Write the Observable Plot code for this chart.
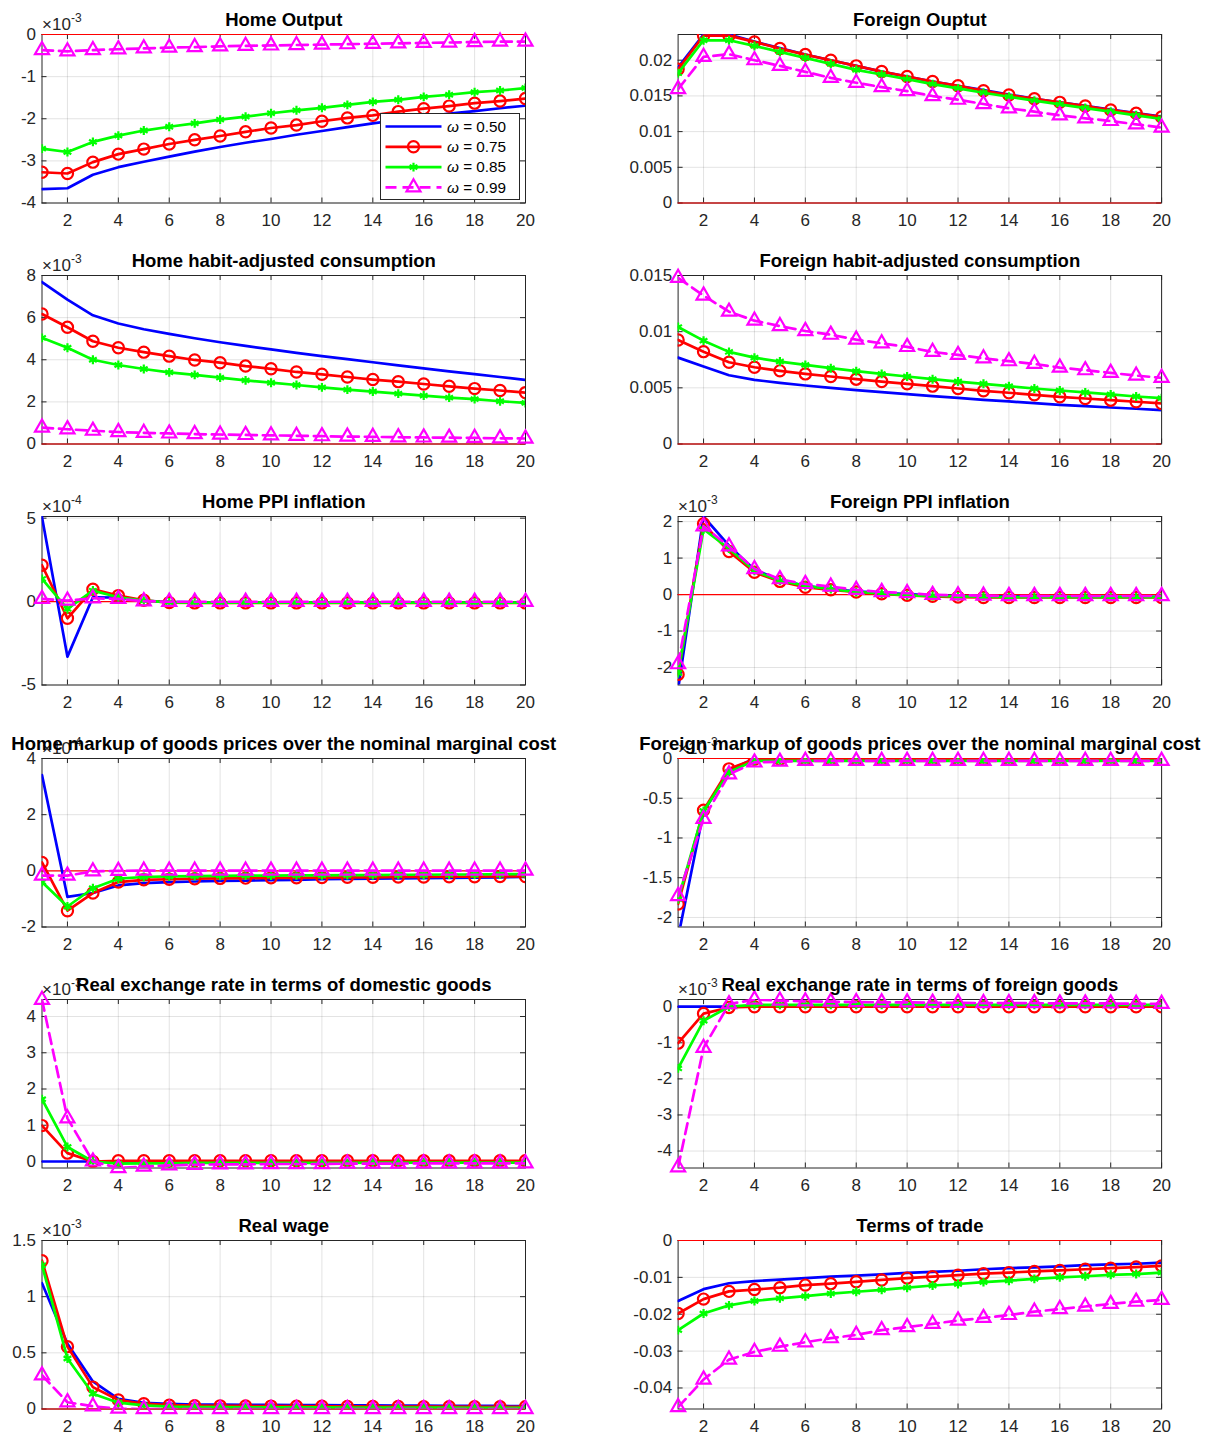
<!DOCTYPE html>
<html><head><meta charset="utf-8">
<script src="https://cdn.jsdelivr.net/npm/d3@7"></script>
<script src="https://cdn.jsdelivr.net/npm/@observablehq/plot@0.6"></script>
<style>
body{margin:0;background:#fff;}
#fig{position:relative;width:1215px;height:1436px;overflow:hidden;font-family:"Liberation Sans",Arial,Helvetica,sans-serif;background:#fff;}
</style></head><body><div id="fig"></div>
<script>
// ---------------- data ----------------
const periods = d3.range(1, 21);
const xTicks = [2, 4, 6, 8, 10, 12, 14, 16, 18, 20];
const omegaLabels = ["0.50", "0.75", "0.85", "0.99"];

const panelTitles = [
  "Home Output", "Foreign Ouptut",
  "Home habit-adjusted consumption", "Foreign habit-adjusted consumption",
  "Home PPI inflation", "Foreign PPI inflation",
  "Home markup of goods prices over the nominal marginal cost", "Foreign markup of goods prices over the nominal marginal cost",
  "Real exchange rate in terms of domestic goods", "Real exchange rate in terms of foreign goods",
  "Real wage", "Terms of trade"
];
const panelExponents = ["-3", null, "-3", null, "-4", "-3", "-4", "-3", "-3", "-3", "-3", null];
const panelYDomains = [[-4, 0], [0, 0.0236], [0, 8], [0, 0.015], [-5, 5.1], [-2.48, 2.14],
  [-2, 4], [-2.12, 0], [-0.18, 4.47], [-4.47, 0.2], [0, 1.5], [-0.0457, 0]];
const panelYTicks = [[-4, -3, -2, -1, 0], [0, 0.005, 0.01, 0.015, 0.02], [0, 2, 4, 6, 8], [0, 0.005, 0.01, 0.015],
  [-5, 0, 5], [-2, -1, 0, 1, 2], [-2, 0, 2, 4], [-2, -1.5, -1, -0.5, 0], [0, 1, 2, 3, 4], [-4, -3, -2, -1, 0],
  [0, 0.5, 1, 1.5], [-0.04, -0.03, -0.02, -0.01, 0]];

// each: [omega 0.50, 0.75, 0.85, 0.99]
const homeOutput = [
  [-3.67,-3.65,-3.33,-3.15,-3.02,-2.90,-2.78,-2.67,-2.57,-2.48,-2.38,-2.29,-2.20,-2.11,-2.03,-1.96,-1.88,-1.82,-1.75,-1.69],
  [-3.27,-3.30,-3.03,-2.84,-2.72,-2.60,-2.50,-2.41,-2.31,-2.22,-2.15,-2.06,-1.98,-1.92,-1.83,-1.76,-1.70,-1.63,-1.58,-1.52],
  [-2.71,-2.79,-2.55,-2.40,-2.28,-2.19,-2.11,-2.02,-1.95,-1.87,-1.80,-1.74,-1.67,-1.60,-1.55,-1.48,-1.43,-1.37,-1.33,-1.27],
  [-0.37,-0.40,-0.37,-0.35,-0.33,-0.31,-0.30,-0.28,-0.27,-0.26,-0.25,-0.24,-0.23,-0.22,-0.21,-0.20,-0.19,-0.18,-0.17,-0.17]
];
const foreignOutput = [
  [0.0190,0.0236,0.0236,0.0226,0.0217,0.0208,0.0200,0.0192,0.0184,0.0177,0.0170,0.0164,0.0158,0.0152,0.0146,0.0141,0.0136,0.0131,0.0126,0.0121],
  [0.01874,0.02344,0.02344,0.02256,0.02163,0.02079,0.0200,0.01921,0.01842,0.01772,0.01702,0.01642,0.01572,0.01512,0.0146,0.0141,0.01358,0.01302,0.01256,0.01205],
  [0.01819,0.02279,0.02279,0.0220,0.02116,0.02033,0.01949,0.01865,0.0180,0.01735,0.01665,0.01605,0.01544,0.01488,0.01433,0.01381,0.0133,0.01279,0.01228,0.01177],
  [0.01595,0.02047,0.02084,0.0200,0.01921,0.01837,0.01753,0.01684,0.01623,0.01567,0.01498,0.01447,0.01386,0.01326,0.01279,0.01228,0.01186,0.01149,0.01102,0.01056]
];
const homeConsumption = [
  [7.69,6.85,6.11,5.72,5.45,5.23,5.02,4.83,4.66,4.49,4.33,4.17,4.03,3.88,3.73,3.59,3.45,3.32,3.18,3.04],
  [6.17,5.54,4.88,4.57,4.36,4.17,3.99,3.86,3.70,3.57,3.42,3.31,3.18,3.06,2.96,2.85,2.74,2.63,2.54,2.44],
  [5.04,4.57,4.00,3.75,3.56,3.40,3.28,3.15,3.02,2.91,2.80,2.69,2.58,2.49,2.39,2.30,2.20,2.13,2.03,1.95],
  [0.78,0.70,0.63,0.57,0.53,0.50,0.47,0.45,0.43,0.41,0.39,0.37,0.35,0.34,0.32,0.31,0.30,0.29,0.27,0.26]
];
const foreignConsumption = [
  [0.00769,0.00689,0.00612,0.00571,0.00544,0.00521,0.0050,0.00479,0.00462,0.00444,0.00426,0.00411,0.00393,0.00379,0.00364,0.00349,0.00337,0.00325,0.00314,0.00302],
  [0.00926,0.00822,0.00728,0.00683,0.00651,0.00624,0.00601,0.00577,0.00556,0.00536,0.00515,0.00494,0.00473,0.00456,0.00438,0.0042,0.00405,0.0039,0.00376,0.00361],
  [0.01041,0.0092,0.0082,0.00769,0.00734,0.00704,0.00675,0.00648,0.00624,0.00601,0.00577,0.00556,0.00536,0.00515,0.00494,0.00476,0.00459,0.00441,0.00423,0.00408],
  [0.01479,0.01322,0.01178,0.01098,0.0105,0.01006,0.00973,0.00929,0.00896,0.00864,0.0082,0.00793,0.00763,0.00737,0.00713,0.0068,0.00657,0.00633,0.00609,0.00589]
];
const homePPI = [
  [5.06,-3.30,0.26,0.24,0.05,-0.02,-0.04,-0.05,-0.05,-0.05,-0.05,-0.05,-0.05,-0.05,-0.05,-0.05,-0.05,-0.05,-0.05,-0.05],
  [2.18,-1.00,0.74,0.36,0.08,-0.06,-0.08,-0.08,-0.08,-0.08,-0.08,-0.08,-0.08,-0.08,-0.08,-0.08,-0.08,-0.08,-0.08,-0.08],
  [1.36,-0.44,0.66,0.26,0.06,-0.05,-0.06,-0.06,-0.06,-0.06,-0.06,-0.06,-0.06,-0.06,-0.06,-0.06,-0.06,-0.06,-0.06,-0.06],
  [0.16,0.06,0.20,0.16,0.02,-0.01,-0.01,-0.01,-0.01,-0.01,-0.01,-0.01,-0.01,-0.01,-0.01,-0.01,-0.01,-0.01,-0.01,-0.01]
];
const foreignPPI = [
  [-2.60,2.14,1.34,0.68,0.40,0.24,0.15,0.09,0.05,0.01,-0.02,-0.04,-0.05,-0.05,-0.06,-0.06,-0.06,-0.06,-0.06,-0.06],
  [-2.19,1.94,1.18,0.61,0.36,0.20,0.13,0.07,0.02,-0.02,-0.05,-0.07,-0.08,-0.08,-0.08,-0.08,-0.08,-0.08,-0.08,-0.08],
  [-2.15,1.79,1.26,0.65,0.38,0.24,0.15,0.07,0.03,-0.02,-0.04,-0.05,-0.06,-0.07,-0.07,-0.07,-0.07,-0.07,-0.07,-0.07],
  [-1.91,1.87,1.32,0.70,0.42,0.29,0.22,0.13,0.07,0.04,-0.01,-0.02,-0.03,-0.04,-0.04,-0.04,-0.04,-0.04,-0.04,-0.04]
];
const homeMarkup = [
  [3.41,-0.93,-0.79,-0.52,-0.44,-0.40,-0.38,-0.36,-0.35,-0.33,-0.32,-0.30,-0.29,-0.28,-0.27,-0.26,-0.25,-0.24,-0.23,-0.22],
  [0.30,-1.42,-0.79,-0.40,-0.32,-0.30,-0.28,-0.27,-0.26,-0.25,-0.25,-0.24,-0.23,-0.23,-0.22,-0.22,-0.21,-0.21,-0.20,-0.20],
  [-0.40,-1.27,-0.62,-0.28,-0.22,-0.20,-0.19,-0.18,-0.17,-0.17,-0.16,-0.16,-0.15,-0.15,-0.14,-0.14,-0.13,-0.13,-0.12,-0.12],
  [-0.17,-0.17,-0.02,0.00,0.01,0.01,0.01,0.01,0.01,0.01,0.01,0.01,0.01,0.01,0.01,0.01,0.01,0.01,0.01,0.01]
];
const foreignMarkup = [
  [-2.25,-0.67,-0.15,0.00,0.00,0.00,0.00,0.00,0.00,0.00,0.00,0.00,0.00,0.00,0.00,0.00,0.00,0.00,0.00,0.00],
  [-1.83,-0.65,-0.13,-0.01,-0.01,-0.01,-0.01,-0.01,-0.01,-0.01,-0.01,-0.01,-0.01,-0.01,-0.01,-0.01,-0.01,-0.01,-0.01,-0.01],
  [-1.77,-0.66,-0.17,-0.03,-0.03,-0.03,-0.03,-0.03,-0.03,-0.03,-0.03,-0.03,-0.03,-0.03,-0.03,-0.03,-0.03,-0.03,-0.03,-0.03],
  [-1.73,-0.76,-0.20,-0.05,-0.04,-0.03,-0.03,-0.03,-0.03,-0.03,-0.03,-0.03,-0.03,-0.03,-0.03,-0.03,-0.03,-0.03,-0.03,-0.03]
];
const rerDomestic = [
  [0,0,0,0,0,0,0,0,0,0,0,0,0,0,0,0,0,0,0,0],
  [0.99,0.23,0.00,0.02,0.02,0.02,0.02,0.02,0.02,0.02,0.02,0.02,0.02,0.02,0.02,0.02,0.02,0.02,0.02,0.02],
  [1.72,0.40,0.00,-0.06,-0.05,-0.05,-0.04,-0.04,-0.04,-0.04,-0.04,-0.04,-0.04,-0.03,-0.03,-0.03,-0.03,-0.03,-0.03,-0.03],
  [4.46,1.19,0.00,-0.18,-0.14,-0.11,-0.09,-0.08,-0.08,-0.07,-0.07,-0.07,-0.06,-0.06,-0.06,-0.05,-0.05,-0.05,-0.05,-0.05]
];
const rerForeign = [
  [0,0,0,0,0,0,0,0,0,0,0,0,0,0,0,0,0,0,0,0],
  [-1.01,-0.19,-0.02,0.00,0.00,0.00,0.00,0.00,0.00,0.00,0.00,0.00,0.00,0.00,0.00,0.00,0.00,0.00,0.00,0.00],
  [-1.71,-0.39,0.00,0.05,0.05,0.05,0.05,0.05,0.05,0.05,0.05,0.05,0.05,0.05,0.05,0.05,0.05,0.05,0.05,0.05],
  [-4.45,-1.14,0.07,0.20,0.17,0.15,0.14,0.13,0.12,0.12,0.11,0.11,0.10,0.10,0.10,0.09,0.09,0.09,0.08,0.08]
];
const realWage = [
  [1.12,0.58,0.245,0.09,0.055,0.045,0.04,0.04,0.038,0.036,0.035,0.034,0.033,0.032,0.031,0.030,0.029,0.028,0.027,0.026],
  [1.32,0.555,0.195,0.08,0.047,0.034,0.030,0.028,0.027,0.026,0.025,0.024,0.023,0.022,0.022,0.021,0.021,0.020,0.020,0.020],
  [1.28,0.45,0.135,0.056,0.032,0.022,0.018,0.016,0.015,0.015,0.014,0.014,0.013,0.013,0.012,0.012,0.012,0.011,0.011,0.011],
  [0.30,0.06,0.024,0.003,0.000,0.000,0.000,0.000,0.000,0.000,0.000,0.000,0.000,0.000,0.000,0.000,0.000,0.000,0.000,0.000]
];
const termsOfTrade = [
  [-0.0164,-0.0132,-0.0116,-0.0110,-0.0106,-0.0102,-0.0098,-0.0095,-0.0092,-0.0088,-0.0085,-0.0082,-0.0078,-0.0075,-0.0073,-0.0070,-0.0067,-0.0065,-0.0063,-0.0060],
  [-0.0198,-0.0159,-0.0138,-0.0133,-0.0128,-0.0121,-0.0117,-0.0112,-0.0107,-0.0102,-0.0098,-0.0094,-0.0090,-0.0087,-0.0084,-0.0081,-0.0078,-0.0075,-0.0072,-0.0069],
  [-0.0243,-0.0198,-0.0176,-0.0164,-0.0157,-0.0151,-0.0144,-0.0139,-0.0134,-0.0128,-0.0122,-0.0118,-0.0113,-0.0109,-0.0104,-0.0100,-0.0097,-0.0093,-0.0091,-0.0087],
  [-0.0452,-0.0377,-0.0323,-0.0302,-0.0288,-0.0276,-0.0265,-0.0256,-0.0243,-0.0235,-0.0226,-0.0217,-0.0210,-0.0202,-0.0193,-0.0186,-0.0179,-0.0172,-0.0166,-0.0161]
];

const panelData = [homeOutput, foreignOutput, homeConsumption, foreignConsumption, homePPI, foreignPPI,
  homeMarkup, foreignMarkup, rerDomestic, rerForeign, realWage, termsOfTrade];

// ---------------- styling ----------------
const seriesColors = ["#0000ff", "#ff0000", "#00ff00", "#ff00ff"];
const FONT = '"Liberation Sans", Arial, Helvetica, sans-serif';
const AX = "#262626";
const LW = 2.7;
const DASH = "11,6";
const R_CIRCLE = 5.6, R_STAR = 4.2, R_TRI = 5.2;
const fmt = v => String(+v.toFixed(6));

const fig = document.getElementById("fig");

function drawPanel(i) {
  const col = i % 2, row = Math.floor(i / 2);
  const plotW = 483.5, plotH = 168.5;
  const plotLeft = col ? 677.6 : 41.5;
  const plotTop = 34 + row * 241.2;
  const svgLeft = col ? 607 : 0;
  const svgW = col ? 608 : 607;
  const mT = 34, mB = 38;
  const mL = plotLeft - svgLeft, mR = svgW - mL - plotW;
  const yt = panelYTicks[i];
  const rows = [];
  panelData[i].forEach((s, k) => s.forEach((v, j) => rows.push({x: periods[j], y: v, k})));
  const ser = k => rows.filter(d => d.k === k);

  const marks = [
    Plot.gridX(xTicks, {stroke: AX, strokeOpacity: 0.13, strokeWidth: 1}),
    Plot.gridY(yt, {stroke: AX, strokeOpacity: 0.13, strokeWidth: 1}),
    Plot.axisX(xTicks, {tickSize: 0, tickPadding: 11, label: null, fontSize: 17, fill: AX}),
    Plot.axisY(yt, {tickSize: 0, tickPadding: 6, label: null, tickFormat: fmt, fontSize: 17, fill: AX}),
    Plot.frame({stroke: AX, strokeWidth: 1}),
    Plot.tickX(xTicks, {x: d => d, stroke: AX, insetTop: plotH - 5}),
    Plot.tickX(xTicks, {x: d => d, stroke: AX, insetBottom: plotH - 5}),
    Plot.tickY(yt, {y: d => d, stroke: AX, insetRight: plotW - 5}),
    Plot.tickY(yt, {y: d => d, stroke: AX, insetLeft: plotW - 5}),
    Plot.ruleY([0], {stroke: "#ff0000", strokeWidth: 1.2}),
    Plot.line(ser(0), {x: "x", y: "y", stroke: seriesColors[0], strokeWidth: LW, clip: true}),
    Plot.line(ser(1), {x: "x", y: "y", stroke: seriesColors[1], strokeWidth: LW, clip: true}),
    Plot.dot(ser(1), {x: "x", y: "y", r: R_CIRCLE, stroke: seriesColors[1], strokeWidth: 2.2, fill: "none", clip: true}),
    Plot.line(ser(2), {x: "x", y: "y", stroke: seriesColors[2], strokeWidth: LW, clip: true}),
    Plot.dot(ser(2), {x: "x", y: "y", r: R_STAR, symbol: "asterisk", stroke: seriesColors[2], strokeWidth: 2.2, clip: true}),
    Plot.line(ser(3), {x: "x", y: "y", stroke: seriesColors[3], strokeWidth: LW, strokeDasharray: DASH, clip: true}),
    Plot.dot(ser(3), {x: "x", y: "y", r: R_TRI, symbol: "triangle", stroke: seriesColors[3], strokeWidth: 2.2, fill: "none"}),
  ];
  if (panelExponents[i]) {
    marks.push(Plot.text(["×10"], {frameAnchor: "top-left", dy: -5, lineAnchor: "bottom", textAnchor: "start", fontSize: 17, fill: AX}));
    marks.push(Plot.text([panelExponents[i]], {frameAnchor: "top-left", dx: 29, dy: -13, lineAnchor: "bottom", textAnchor: "start", fontSize: 12, fill: AX}));
  }
  marks.push(Plot.text([panelTitles[i]], {frameAnchor: "top", dy: -9, lineAnchor: "bottom", fontSize: 18.5, fontWeight: "bold", fill: "#000"}));

  const chart = Plot.plot({
    width: svgW, height: mT + plotH + mB,
    marginLeft: mL, marginRight: mR, marginTop: mT, marginBottom: mB,
    style: {background: "transparent", fontFamily: FONT, fontSize: "17px", color: AX, overflow: "visible"},
    x: {domain: [1, 20]},
    y: {domain: panelYDomains[i]},
    marks
  });
  chart.style.position = "absolute";
  chart.style.left = svgLeft + "px";
  chart.style.top = (plotTop - mT) + "px";
  chart.style.maxWidth = "none";
  fig.appendChild(chart);
}

for (let i = 0; i < 12; i++) drawPanel(i);

// ---------------- legend (inside Home Output panel) ----------------
(function legend() {
  const W = 139, H = 86;
  const svg = d3.create("svg").attr("width", W + 1).attr("height", H + 1)
    .style("position", "absolute").style("left", "380px").style("top", "113px").style("overflow", "visible");
  svg.append("rect").attr("x", 0.5).attr("y", 0.5).attr("width", W).attr("height", H)
    .attr("fill", "#fff").attr("stroke", AX).attr("stroke-width", 1);
  const symbols = [null, d3.symbolCircle, d3.symbolAsterisk, d3.symbolTriangle];
  const radii = [0, R_CIRCLE, R_STAR, R_TRI];
  omegaLabels.forEach((lab, k) => {
    const y = 13.5 + k * 20.3;
    svg.append("line").attr("x1", 5.5).attr("x2", 61.5).attr("y1", y).attr("y2", y)
      .attr("stroke", seriesColors[k]).attr("stroke-width", LW)
      .attr("stroke-dasharray", k === 3 ? DASH : null);
    if (k > 0) {
      svg.append("path").attr("transform", `translate(33.5,${y})`)
        .attr("d", d3.symbol(symbols[k], Math.PI * radii[k] * radii[k])())
        .attr("fill", "none").attr("stroke", seriesColors[k]).attr("stroke-width", 2.2);
    }
    const t = svg.append("text").attr("x", 67).attr("y", y).attr("dy", "0.35em")
      .attr("font-family", FONT).attr("font-size", 15.3).attr("fill", "#000");
    t.append("tspan").attr("font-style", "italic").text("ω");
    t.append("tspan").text(" = " + lab);
  });
  fig.appendChild(svg.node());
})();
</script>
</body></html>
